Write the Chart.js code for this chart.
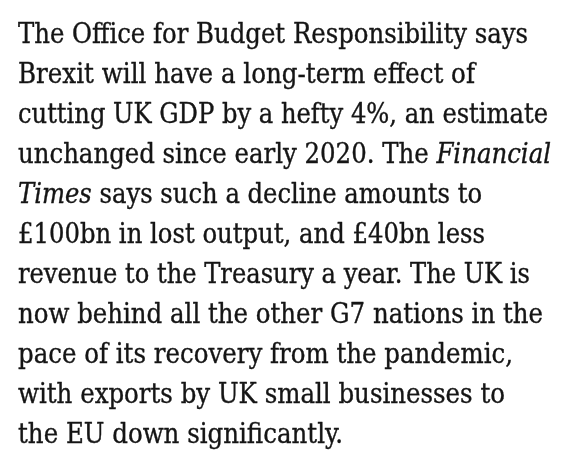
<!DOCTYPE html>
<html>
<head>
<meta charset="utf-8">
<title>OBR Brexit estimate</title>
<script src="https://cdn.jsdelivr.net/npm/chart.js@4.4.1/dist/chart.umd.min.js"></script>
<style>
    html, body { margin: 0; padding: 0; background: #fff; }
    #wrap { position: relative; width: 567px; height: 473px; }
</style>
</head>
<body>
<div id="wrap"><canvas id="textChart" role="img"></canvas></div>
<script>
// Paragraph text, one entry per printed line; each part is [text, italic]
const paragraphLines = [
    [['The Office for Budget Responsibility says']],
    [['Brexit will have a long-term effect of']],
    [['cutting UK GDP by a hefty 4%, an estimate']],
    [['unchanged since early 2020. The '], ['Financial', true]],
    [['Times', true], [' says such a decline amounts to']],
    [['£100bn in lost output, and £40bn less']],
    [['revenue to the Treasury a year. The UK is']],
    [['now behind all the other G7 nations in the']],
    [['pace of its recovery from the pandemic,']],
    [['with exports by UK small businesses to']],
    [['the EU down significantly.']]
];

// layout: right edge of each line as set in the reference (px)
const lineEnds = [528, 475, 548, 551, 482, 485, 530, 543, 513, 505, 343];

const TEXT_LEFT = 18;
const FIRST_BASELINE = 43;
const LINE_STEP = 40;
const FONT_SIZE = 27.5;
const FONT_FAMILY = '"DejaVu Serif Condensed", "DejaVu Serif", serif';
const INK = '#151515';

function fontFor(italic) {
    return (italic ? 'italic ' : '') + FONT_SIZE + 'px ' + FONT_FAMILY;
}

// draws the paragraph onto the chart canvas
const paragraphPlugin = {
    id: 'paragraph',
    afterDraw(chart) {
        const ctx = chart.ctx;
        ctx.save();
        ctx.fillStyle = INK;
        ctx.strokeStyle = INK;
        ctx.lineWidth = 0.35;
        ctx.lineJoin = 'round';
        ctx.textBaseline = 'alphabetic';
        ctx.textAlign = 'left';

        paragraphLines.forEach((parts, i) => {
            let natural = 0;
            parts.forEach(([txt, italic]) => {
                ctx.font = fontFor(italic);
                natural += ctx.measureText(txt).width;
            });
            const scale = (lineEnds[i] - TEXT_LEFT) / natural;

            ctx.save();
            ctx.translate(TEXT_LEFT, FIRST_BASELINE + i * LINE_STEP);
            ctx.scale(scale, 1);
            let x = 0;
            parts.forEach(([txt, italic]) => {
                ctx.font = fontFor(italic);
                ctx.fillText(txt, x, 0);
                ctx.strokeText(txt, x, 0);
                x += ctx.measureText(txt).width;
            });
            ctx.restore();
        });
        ctx.restore();
    }
};

const canvas = document.getElementById('textChart');
canvas.setAttribute('aria-label', paragraphLines.map(l => l.map(p => p[0]).join('')).join(' '));

new Chart(canvas.getContext('2d'), {
    type: 'line',
    data: { labels: [], datasets: [] },
    options: {
        responsive: true,
        maintainAspectRatio: false,
        animation: false,
        layout: { padding: 0 },
        plugins: {
            legend: { display: false },
            tooltip: { enabled: false }
        },
        scales: {
            x: { display: false },
            y: { display: false }
        }
    },
    plugins: [paragraphPlugin]
});
</script>
</body>
</html>
